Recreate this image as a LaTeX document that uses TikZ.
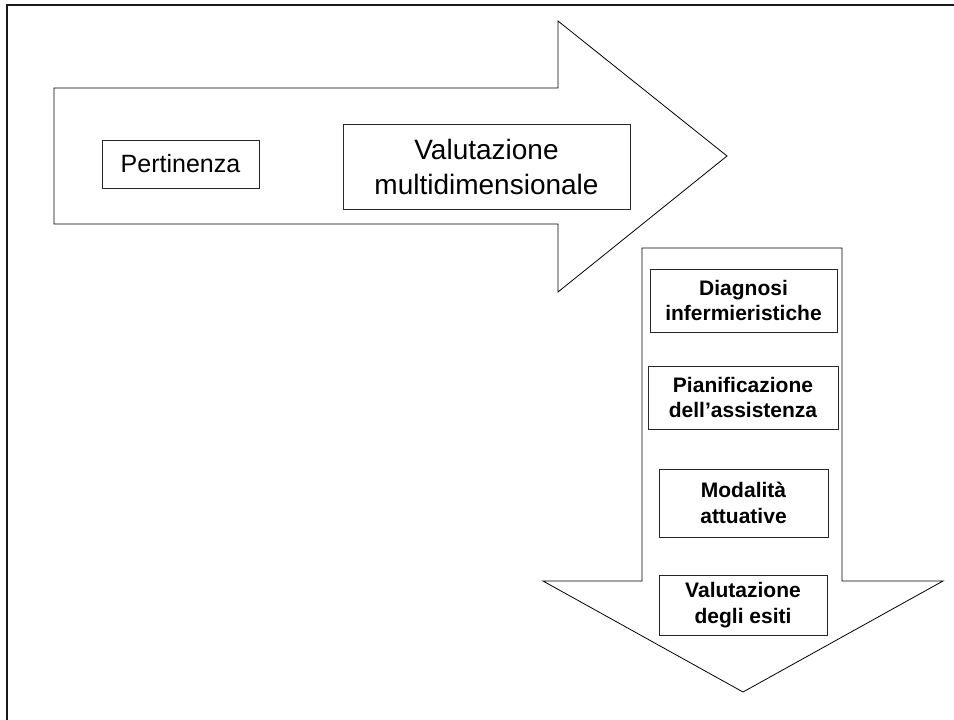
\documentclass[tikz,border=0pt]{standalone}
\usepackage{fontspec}
\setmainfont{Liberation Sans}
\begin{document}
\begin{tikzpicture}[x=1pt,y=-1pt,
  shapeline/.style={draw=black,line width=0.8pt,fill=white,line join=miter},
  stagebox/.style={draw=black!85,line width=0.8pt,fill=white,inner sep=0pt,align=center},
  bigtext/.style={font=\fontsize{28}{35}\selectfont},
  midtext/.style={font=\fontsize{25}{30}\selectfont},
  smalltext/.style={font=\bfseries\fontsize{21}{25.7}\selectfont}]
  \useasboundingbox (0,0) rectangle (954,720);
  % frame along the top and left edges
  \draw[line width=2.2pt,black!90] (7,720) -- (7,5) -- (954,5);

  % horizontal block arrow
  \draw[shapeline] (54,88) -- (558,88) -- (558,21) -- (727,156)
    -- (558,292) -- (558,224) -- (54,224) -- cycle;
  % vertical block arrow
  \draw[shapeline] (642,248) -- (842,248) -- (842,581) -- (943,581)
    -- (743,692) -- (543,581) -- (642,581) -- cycle;

  % boxes on the horizontal arrow
  \node[stagebox,midtext,minimum width=157pt,minimum height=48pt] (pert) at (180.5,164) {Pertinenza};
  \node[stagebox,bigtext,minimum width=287pt,minimum height=85pt] (valmd) at (486.5,166.5) {Valutazione\\multidimensionale};

  % boxes on the vertical arrow
  \node[stagebox,smalltext,minimum width=187pt,minimum height=63pt] (diag) at (743.5,300.5) {Diagnosi\\infermieristiche};
  \node[stagebox,smalltext,minimum width=190pt,minimum height=63pt] (pian) at (743,397.5) {Pianificazione\\dell’assistenza};
  \node[stagebox,smalltext,minimum width=169pt,minimum height=68pt] (moda) at (743.5,503) {Modalità\\attuative};
  \node[stagebox,smalltext,minimum width=168pt,minimum height=60pt] (esiti) at (743,605) {Valutazione\\degli esiti};
\end{tikzpicture}
\end{document}
